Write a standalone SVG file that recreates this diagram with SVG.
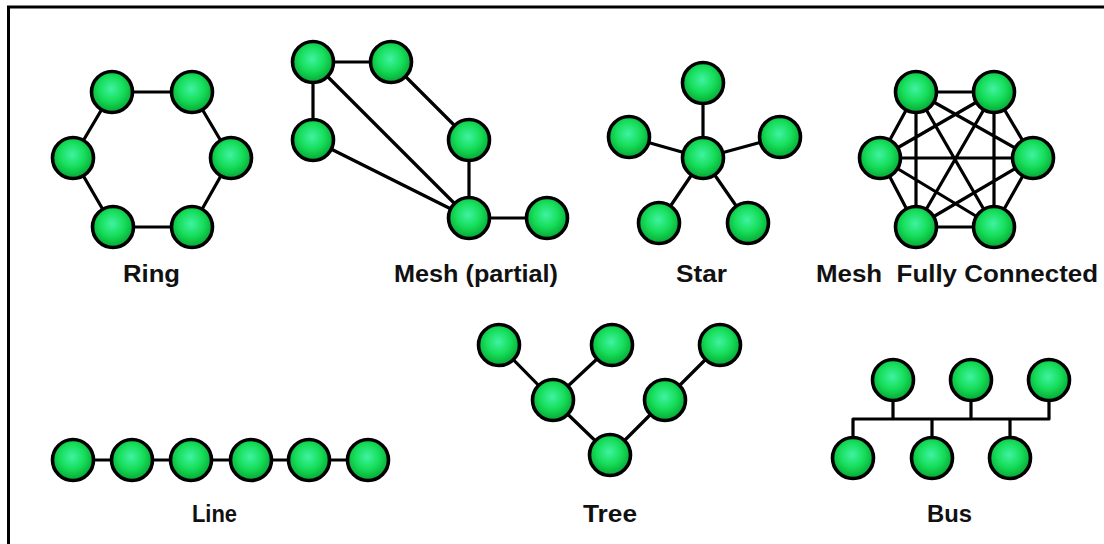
<svg xmlns="http://www.w3.org/2000/svg" width="1104" height="544" viewBox="0 0 1104 544">
<defs>
<radialGradient id="g" cx="48%" cy="42%" r="55%">
<stop offset="0%" stop-color="#40f2a2"/>
<stop offset="55%" stop-color="#16de5a"/>
<stop offset="100%" stop-color="#08ac36"/>
</radialGradient>
</defs>
<style>
.n{fill:url(#g);stroke:#000;stroke-width:3.6}
.e{stroke:#000;stroke-width:3.2;fill:none;stroke-linecap:round}
.t{font-family:"Liberation Sans",Arial,sans-serif;font-weight:bold;font-size:23px;fill:#111}
</style>
<rect width="1104" height="544" fill="#fff"/>
<path d="M8.5 544 V7 H1104" fill="none" stroke="#000" stroke-width="3"/>
<g id="connectors">
<path class="e" d="M112 92 L192 92 L231 158 L192 227 L113 227 L73 158 Z"/>
<path class="e" d="M313 62 L391 62 M313 62 L313 140 M313 62 L469 218 M313 140 L469 218 M391 62 L469 140 M469 140 L469 218 M469 218 L547 218"/>
<path class="e" d="M703 158 L703 83 M703 158 L629 137 M703 158 L780 137 M703 158 L659 223 M703 158 L748 223"/>
<path class="e" d="M916 92 L994 92 M916 92 L880 158 M916 92 L1033 158 M916 92 L916 227 M916 92 L994 227 M994 92 L880 158 M994 92 L1033 158 M994 92 L916 227 M994 92 L994 227 M880 158 L1033 158 M880 158 L916 227 M880 158 L994 227 M1033 158 L916 227 M1033 158 L994 227 M916 227 L994 227"/>
<path class="e" d="M73 460 L368 460"/>
<path class="e" d="M499 345 L553 400 M612 345 L553 400 M553 400 L610 455 M610 455 L665 400 M665 400 L720 345"/>
<path class="e" d="M853 419 L1049 419 M893 380 L893 419 M971 380 L971 419 M1049 380 L1049 419 M853 419 L853 458 M932 419 L932 458 M1010 419 L1010 458"/>
</g>
<g id="ring">
<circle class="n" cx="112" cy="92" r="20.5"/>
<circle class="n" cx="192" cy="92" r="20.5"/>
<circle class="n" cx="73" cy="158" r="20.5"/>
<circle class="n" cx="231" cy="158" r="20.5"/>
<circle class="n" cx="113" cy="227" r="20.5"/>
<circle class="n" cx="192" cy="227" r="20.5"/>
<text class="t" x="123" y="282" textLength="57" lengthAdjust="spacingAndGlyphs">Ring</text>
</g>
<g id="mesh-partial">
<circle class="n" cx="313" cy="62" r="20.5"/>
<circle class="n" cx="391" cy="62" r="20.5"/>
<circle class="n" cx="313" cy="140" r="20.5"/>
<circle class="n" cx="469" cy="140" r="20.5"/>
<circle class="n" cx="469" cy="218" r="20.5"/>
<circle class="n" cx="547" cy="218" r="20.5"/>
<text class="t" x="394" y="282" textLength="164" lengthAdjust="spacingAndGlyphs">Mesh (partial)</text>
</g>
<g id="star">
<circle class="n" cx="703" cy="83" r="20.5"/>
<circle class="n" cx="629" cy="137" r="20.5"/>
<circle class="n" cx="780" cy="137" r="20.5"/>
<circle class="n" cx="703" cy="158" r="20.5"/>
<circle class="n" cx="659" cy="223" r="20.5"/>
<circle class="n" cx="748" cy="223" r="20.5"/>
<text class="t" x="676" y="282" textLength="51" lengthAdjust="spacingAndGlyphs">Star</text>
</g>
<g id="mesh-full">
<circle class="n" cx="916" cy="92" r="20.5"/>
<circle class="n" cx="994" cy="92" r="20.5"/>
<circle class="n" cx="880" cy="158" r="20.5"/>
<circle class="n" cx="1033" cy="158" r="20.5"/>
<circle class="n" cx="916" cy="227" r="20.5"/>
<circle class="n" cx="994" cy="227" r="20.5"/>
<text class="t" x="816" y="282" textLength="282" lengthAdjust="spacingAndGlyphs" xml:space="preserve">Mesh  Fully Connected</text>
</g>
<g id="line">
<circle class="n" cx="73" cy="460" r="20.5"/>
<circle class="n" cx="132" cy="460" r="20.5"/>
<circle class="n" cx="191" cy="460" r="20.5"/>
<circle class="n" cx="251" cy="460" r="20.5"/>
<circle class="n" cx="309" cy="460" r="20.5"/>
<circle class="n" cx="368" cy="460" r="20.5"/>
<text class="t" x="192" y="522" textLength="45" lengthAdjust="spacingAndGlyphs">Line</text>
</g>
<g id="tree">
<circle class="n" cx="499" cy="345" r="20.5"/>
<circle class="n" cx="612" cy="345" r="20.5"/>
<circle class="n" cx="720" cy="345" r="20.5"/>
<circle class="n" cx="553" cy="400" r="20.5"/>
<circle class="n" cx="665" cy="400" r="20.5"/>
<circle class="n" cx="610" cy="455" r="20.5"/>
<text class="t" x="583" y="522" textLength="54" lengthAdjust="spacingAndGlyphs">Tree</text>
</g>
<g id="bus">
<circle class="n" cx="893" cy="380" r="20.5"/>
<circle class="n" cx="971" cy="380" r="20.5"/>
<circle class="n" cx="1049" cy="380" r="20.5"/>
<circle class="n" cx="853" cy="458" r="20.5"/>
<circle class="n" cx="932" cy="458" r="20.5"/>
<circle class="n" cx="1010" cy="458" r="20.5"/>
<text class="t" x="927" y="522" textLength="45" lengthAdjust="spacingAndGlyphs">Bus</text>
</g>
</svg>
